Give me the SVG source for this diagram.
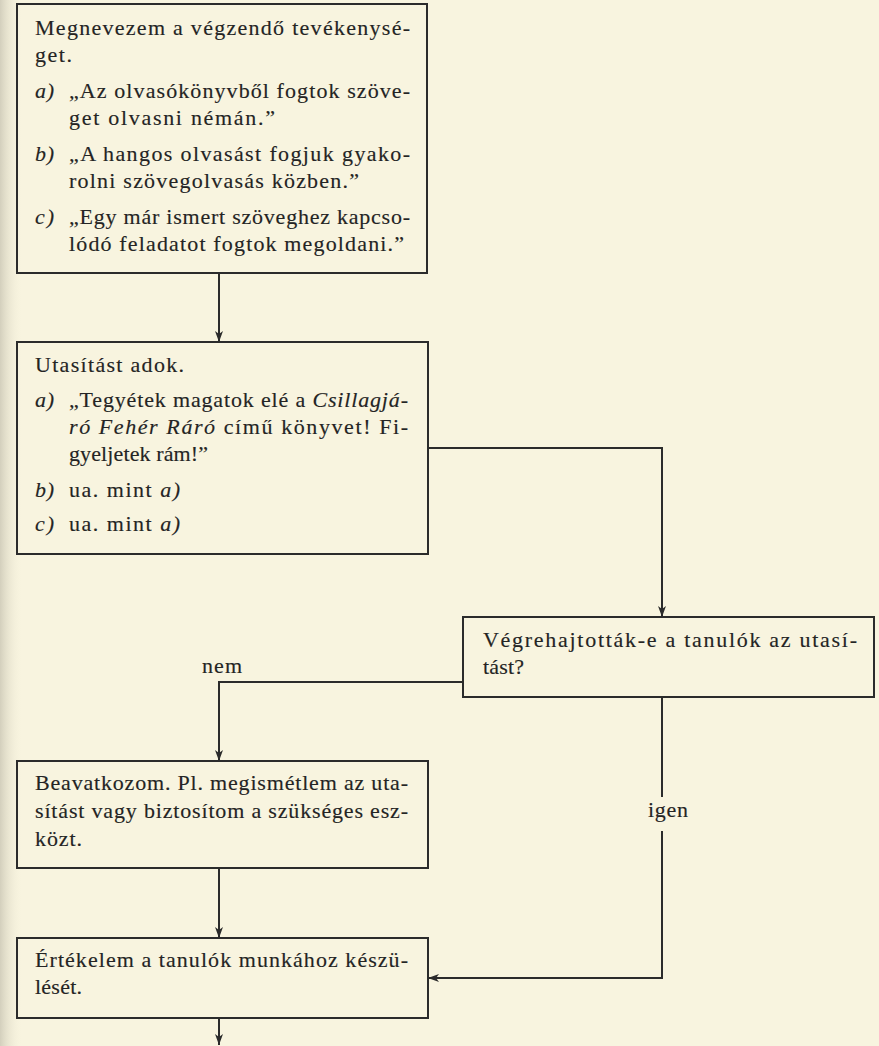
<svg xmlns="http://www.w3.org/2000/svg" width="879" height="1046" viewBox="0 0 879 1046">
  <defs>
    <linearGradient id="gutter" x1="0" y1="0" x2="1" y2="0">
      <stop offset="0" stop-color="#cfcbb9" stop-opacity="0.9"/>
      <stop offset="1" stop-color="#f6f2dc" stop-opacity="0"/>
    </linearGradient>
    <marker id="arrow" markerUnits="userSpaceOnUse" markerWidth="12" markerHeight="10" refX="11" refY="4.5" orient="auto">
      <path d="M0,0.5 L11,4.5 L0,8.5 L3,4.5 Z" fill="#2b2b2b"/>
    </marker>
    <style>
      .box { fill: none; stroke: #2b2b2b; stroke-width: 2; }
      .edge { fill: none; stroke: #2b2b2b; stroke-width: 2; }
      .t { font-family: "Liberation Serif", "Times New Roman", serif; font-size: 22px; fill: #242424; stroke: #242424; stroke-width: 0.15px; }
      .i { font-style: italic; }
    </style>
  </defs>

  <!-- paper -->
  <rect x="0" y="0" width="879" height="1046" fill="#f8f4df"/>
  <rect x="0" y="0" width="22" height="1046" fill="url(#gutter)"/>

  <!-- connectors -->
  <g id="connectors">
    <line class="edge" x1="219" y1="273" x2="219" y2="342" marker-end="url(#arrow)"/>
    <polyline class="edge" points="428,448 662,448 662,617" marker-end="url(#arrow)"/>
    <polyline class="edge" points="463,682 219,682 219,761" marker-end="url(#arrow)"/>
    <text class="t" x="202" y="673" textLength="40" lengthAdjust="spacing">nem</text>
    <line class="edge" x1="662" y1="697" x2="662" y2="797"/>
    <text class="t" x="648" y="817" textLength="40" lengthAdjust="spacing">igen</text>
    <polyline class="edge" points="662,831 662,978 428,978" marker-end="url(#arrow)"/>
    <line class="edge" x1="219" y1="868" x2="219" y2="938" marker-end="url(#arrow)"/>
    <line class="edge" x1="219" y1="1018" x2="219" y2="1045" marker-end="url(#arrow)"/>
  </g>

  <!-- node: name the activity -->
  <g id="node-megnevezem">
    <rect class="box" x="17" y="4" width="410" height="269"/>
    <text class="t" x="35" y="35" textLength="375" lengthAdjust="spacing">Megnevezem a végzendő tevékenysé-</text>
    <text class="t" x="35" y="62" textLength="37" lengthAdjust="spacing">get.</text>
    <text class="t i" x="35" y="98" textLength="19" lengthAdjust="spacing">a)</text>
    <text class="t" x="69" y="98" textLength="341" lengthAdjust="spacing">„Az olvasókönyvből fogtok szöve-</text>
    <text class="t" x="69" y="125" textLength="206" lengthAdjust="spacing">get olvasni némán.”</text>
    <text class="t i" x="35" y="161" textLength="19" lengthAdjust="spacing">b)</text>
    <text class="t" x="69" y="161" textLength="341" lengthAdjust="spacing">„A hangos olvasást fogjuk gyako-</text>
    <text class="t" x="69" y="188" textLength="290" lengthAdjust="spacing">rolni szövegolvasás közben.”</text>
    <text class="t i" x="35" y="224" textLength="19" lengthAdjust="spacing">c)</text>
    <text class="t" x="69" y="224" textLength="341" lengthAdjust="spacing">„Egy már ismert szöveghez kapcso-</text>
    <text class="t" x="69" y="251" textLength="335" lengthAdjust="spacing">lódó feladatot fogtok megoldani.”</text>
  </g>

  <!-- node: give instruction -->
  <g id="node-utasitas">
    <rect class="box" x="17" y="342" width="411" height="212"/>
    <text class="t" x="35" y="372" textLength="149" lengthAdjust="spacing">Utasítást adok.</text>
    <text class="t i" x="35" y="407" textLength="19" lengthAdjust="spacing">a)</text>
    <text class="t" x="69" y="407" textLength="339" lengthAdjust="spacing">„Tegyétek magatok elé a <tspan class="i">Csillagjá-</tspan></text>
    <text class="t" x="69" y="434" textLength="339" lengthAdjust="spacing"><tspan class="i">ró Fehér Ráró</tspan> című könyvet! Fi-</text>
    <text class="t" x="69" y="461" textLength="139" lengthAdjust="spacing">gyeljetek rám!”</text>
    <text class="t i" x="35" y="497" textLength="19" lengthAdjust="spacing">b)</text>
    <text class="t" x="69" y="497" textLength="111" lengthAdjust="spacing">ua. mint <tspan class="i">a)</tspan></text>
    <text class="t i" x="35" y="531" textLength="19" lengthAdjust="spacing">c)</text>
    <text class="t" x="69" y="531" textLength="111" lengthAdjust="spacing">ua. mint <tspan class="i">a)</tspan></text>
  </g>

  <!-- node: decision -->
  <g id="node-vegrehajtottak">
    <rect class="box" x="463" y="617" width="411" height="80"/>
    <text class="t" x="483" y="647" textLength="374" lengthAdjust="spacing">Végrehajtották-e a tanulók az utasí-</text>
    <text class="t" x="483" y="674" textLength="41" lengthAdjust="spacing">tást?</text>
  </g>

  <!-- node: intervene -->
  <g id="node-beavatkozom">
    <rect class="box" x="17" y="761" width="411" height="107"/>
    <text class="t" x="35" y="790" textLength="373" lengthAdjust="spacing">Beavatkozom. Pl. megismétlem az uta-</text>
    <text class="t" x="35" y="818" textLength="373" lengthAdjust="spacing">sítást vagy biztosítom a szükséges esz-</text>
    <text class="t" x="35" y="846" textLength="47" lengthAdjust="spacing">közt.</text>
  </g>

  <!-- node: evaluate -->
  <g id="node-ertekelem">
    <rect class="box" x="17" y="938" width="411" height="80"/>
    <text class="t" x="35" y="967" textLength="373" lengthAdjust="spacing">Értékelem a tanulók munkához készü-</text>
    <text class="t" x="35" y="994" textLength="47" lengthAdjust="spacing">lését.</text>
  </g>
</svg>
